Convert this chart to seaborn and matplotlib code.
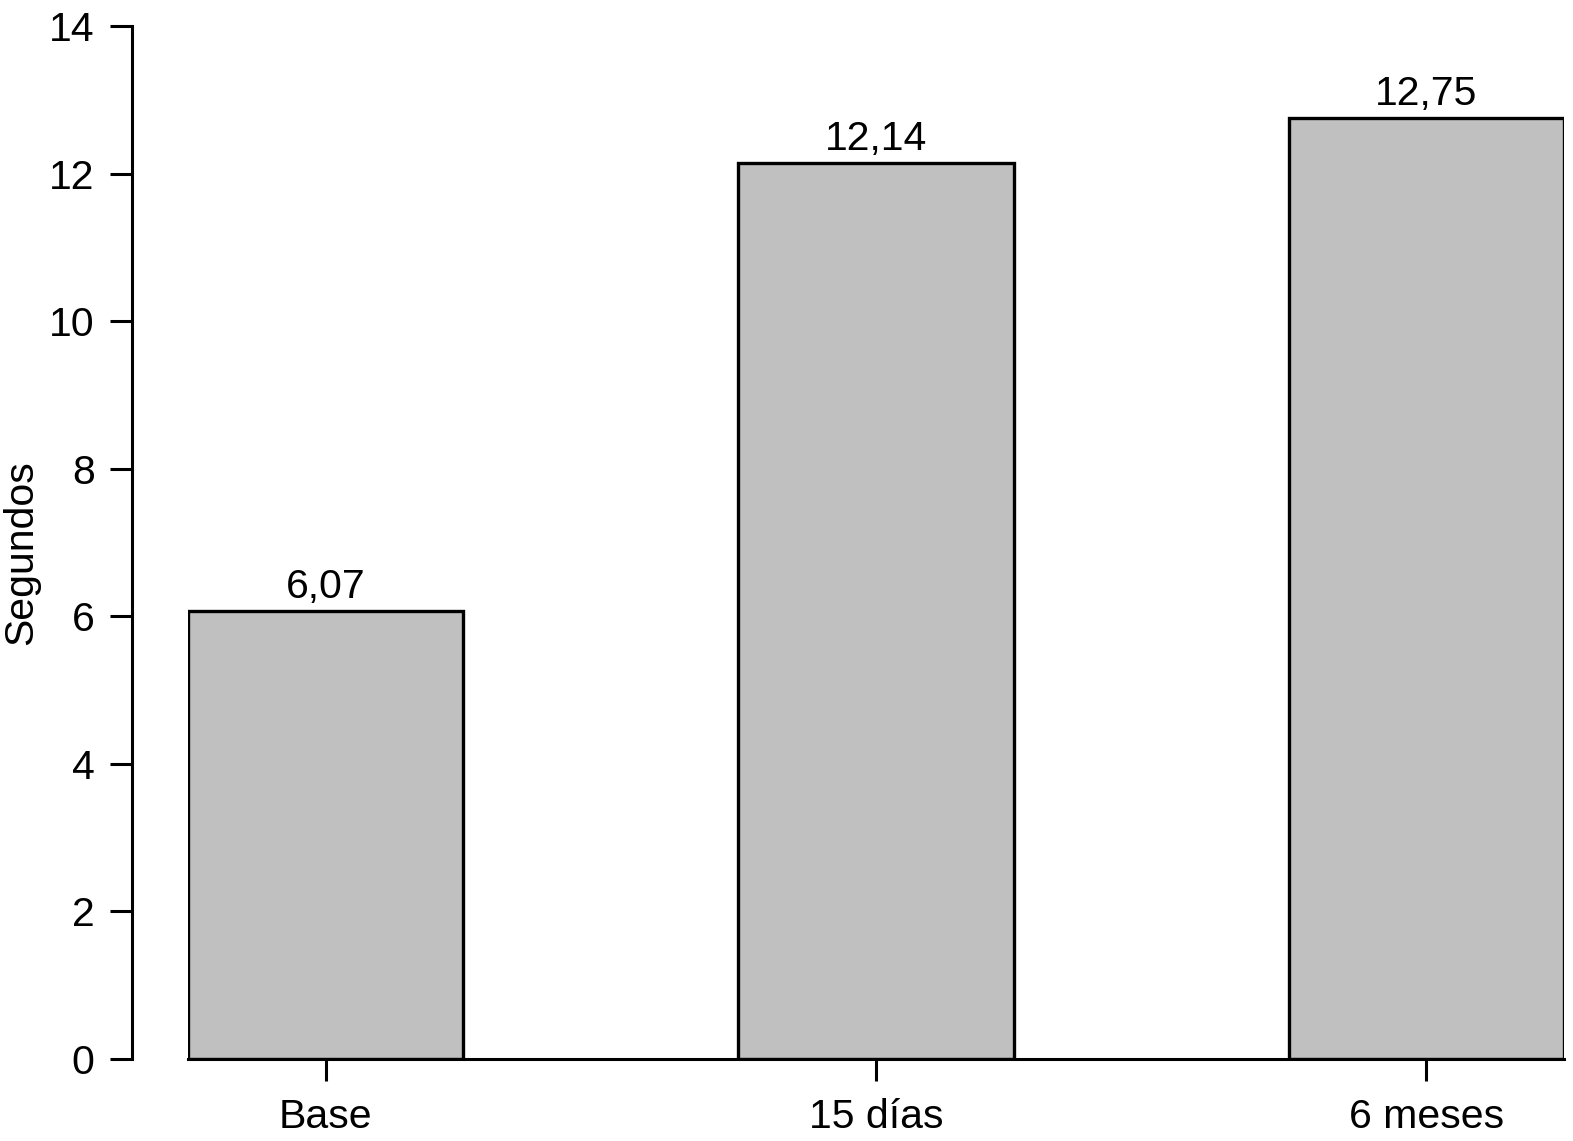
import matplotlib
matplotlib.use("Agg")
import matplotlib.pyplot as plt
import seaborn as sns
import pandas as pd

categories = ["Base", "15 días", "6 meses"]
values = [6.07, 12.14, 12.75]
value_labels = ["6,07", "12,14", "12,75"]
y_ticks = [0, 2, 4, 6, 8, 10, 12, 14]

sns.set_style("ticks")
plt.rcParams["font.family"] = ["Liberation Sans", "DejaVu Sans"]
for k in ["text.color", "axes.labelcolor", "xtick.color", "ytick.color", "axes.edgecolor"]:
    plt.rcParams[k] = "black"

df = pd.DataFrame({"cat": categories, "val": values})

dpi = 100
fig = plt.figure(figsize=(1573 / dpi, 1141 / dpi), dpi=dpi)
ax = fig.add_axes([188 / 1573, (1141 - 1059) / 1141, 1376 / 1573, 1033 / 1141])

sns.barplot(data=df, x="cat", y="val", color="#c0c0c0", saturation=1,
            edgecolor="black", linewidth=2.4, width=0.5, ax=ax)

ax.set_xlim(-0.25, 2.25)
ax.set_ylim(0, 14)
ax.set_yticks(y_ticks)
ax.set_yticklabels([str(t) for t in y_ticks])

ax.bar_label(ax.containers[0], labels=value_labels, padding=4, fontsize=29.5)

for s in ["top", "right"]:
    ax.spines[s].set_visible(False)
ax.spines["left"].set_position(("outward", 56 * 72 / dpi))
ax.spines["left"].set_linewidth(2.2)
ax.spines["bottom"].set_linewidth(2.2)
ax.tick_params(axis="both", length=16, width=2.2, labelsize=29.5, color="black")
ax.tick_params(axis="y", pad=11)
ax.tick_params(axis="x", pad=12)

ax.set_xlabel("")
ax.set_ylabel("Segundos", fontsize=29.5)
ax.yaxis.set_label_coords(-0.1076, 0.49)

fig.savefig("out.png", dpi=dpi)
